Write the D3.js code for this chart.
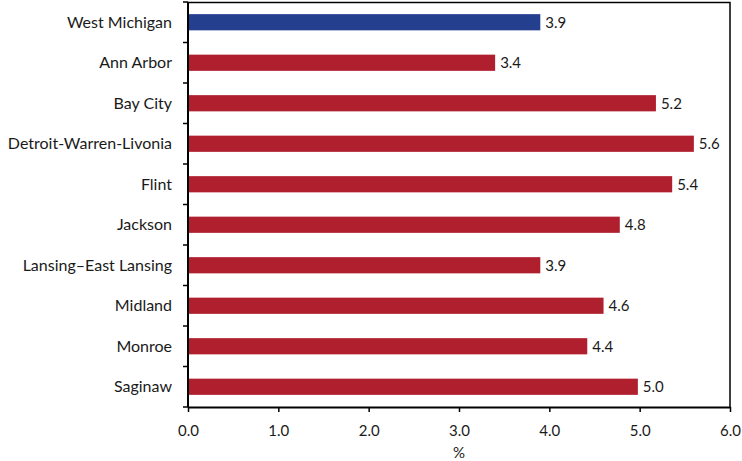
<!DOCTYPE html>
<html>
<head>
<meta charset="utf-8">
<script src="https://cdn.jsdelivr.net/npm/d3@7"></script>
<style>
  body { margin: 0; background: #fff; }
  svg text { font-family: Lato, "Open Sans", sans-serif; fill: #1a1a1a; }
</style>
</head>
<body>
<div id="chart-container"></div>
<script>
// metro areas, top to bottom
const areas = ['West Michigan', 'Ann Arbor', 'Bay City', 'Detroit-Warren-Livonia', 'Flint',
  'Jackson', 'Lansing\u2013East Lansing', 'Midland', 'Monroe', 'Saginaw'];
const rates = [3.90, 3.40, 5.18, 5.60, 5.36, 4.78, 3.90, 4.60, 4.42, 4.98];
const xTicks = [0, 1, 2, 3, 4, 5, 6];
const xLabel = '%';

const data = areas.map((a, i) => ({ area: a, rate: rates[i] }));

const margin = { top: 2, right: 12, bottom: 54, left: 188 };
const width = 742 - margin.left - margin.right;
const height = 461 - margin.top - margin.bottom;

const svg = d3.select('#chart-container')
  .append('svg')
    .attr('width', 742)
    .attr('height', 461)
  .append('g')
    .attr('transform', `translate(${margin.left},${margin.top})`);

const x = d3.scaleLinear().domain([0, 6]).range([0, width]);
const y = d3.scaleBand().domain(areas).range([0, height]).paddingInner(0.6).paddingOuter(0.3);

// frame (top and right)
svg.append('path')
  .attr('d', `M0,0.5H${width}V${height}`)
  .attr('fill', 'none')
  .attr('stroke', '#000')
  .attr('stroke-width', 1.5);

// bars
svg.selectAll('.bar')
  .data(data)
  .enter()
  .append('rect')
    .attr('x', 0)
    .attr('y', d => y(d.area))
    .attr('width', d => x(d.rate))
    .attr('height', y.bandwidth())
    .attr('fill', (d, i) => i === 0 ? '#253f8f' : '#b01f2e');

// value labels
svg.selectAll('.val')
  .data(data)
  .enter()
  .append('text')
    .attr('x', d => x(d.rate) + 5)
    .attr('y', d => y(d.area) + y.bandwidth() / 2)
    .attr('dy', '0.35em')
    .style('font-size', '15px')
    .text(d => d.rate.toFixed(1));

// y axis: ticks between categories
const yAxis = svg.append('g');
yAxis.append('line')
  .attr('x1', 0).attr('x2', 0).attr('y1', 0).attr('y2', height)
  .attr('stroke', '#000').attr('stroke-width', 2);
const bounds = d3.range(areas.length + 1).map(i => i * (height / areas.length));
yAxis.selectAll('.yt')
  .data(bounds)
  .enter()
  .append('line')
    .attr('x1', -5).attr('x2', 0)
    .attr('y1', d => d).attr('y2', d => d)
    .attr('stroke', '#000').attr('stroke-width', 1.5);
yAxis.selectAll('.yl')
  .data(areas)
  .enter()
  .append('text')
    .attr('x', -16)
    .attr('y', d => y(d) + y.bandwidth() / 2)
    .attr('dy', '0.35em')
    .attr('text-anchor', 'end')
    .style('font-size', '16px')
    .text(d => d);

// x axis
const xAxis = svg.append('g')
  .attr('transform', `translate(0,${height})`)
  .call(d3.axisBottom(x).tickValues(xTicks).tickFormat(d3.format('.1f')).tickSize(5).tickSizeOuter(0));
xAxis.select('.domain').attr('stroke', '#000').attr('stroke-width', 2);
xAxis.selectAll('.tick line').attr('stroke', '#000').attr('stroke-width', 1.5);
xAxis.selectAll('.tick text')
  .attr('dy', '0')
  .attr('y', 29)
  .style('font-size', '15px')
  .style('font-family', 'Lato, sans-serif')
  .attr('fill', '#1a1a1a');

svg.append('text')
  .attr('x', x(3))
  .attr('y', height + 51)
  .attr('text-anchor', 'middle')
  .style('font-size', '15px')
  .text(xLabel);
</script>
</body>
</html>
